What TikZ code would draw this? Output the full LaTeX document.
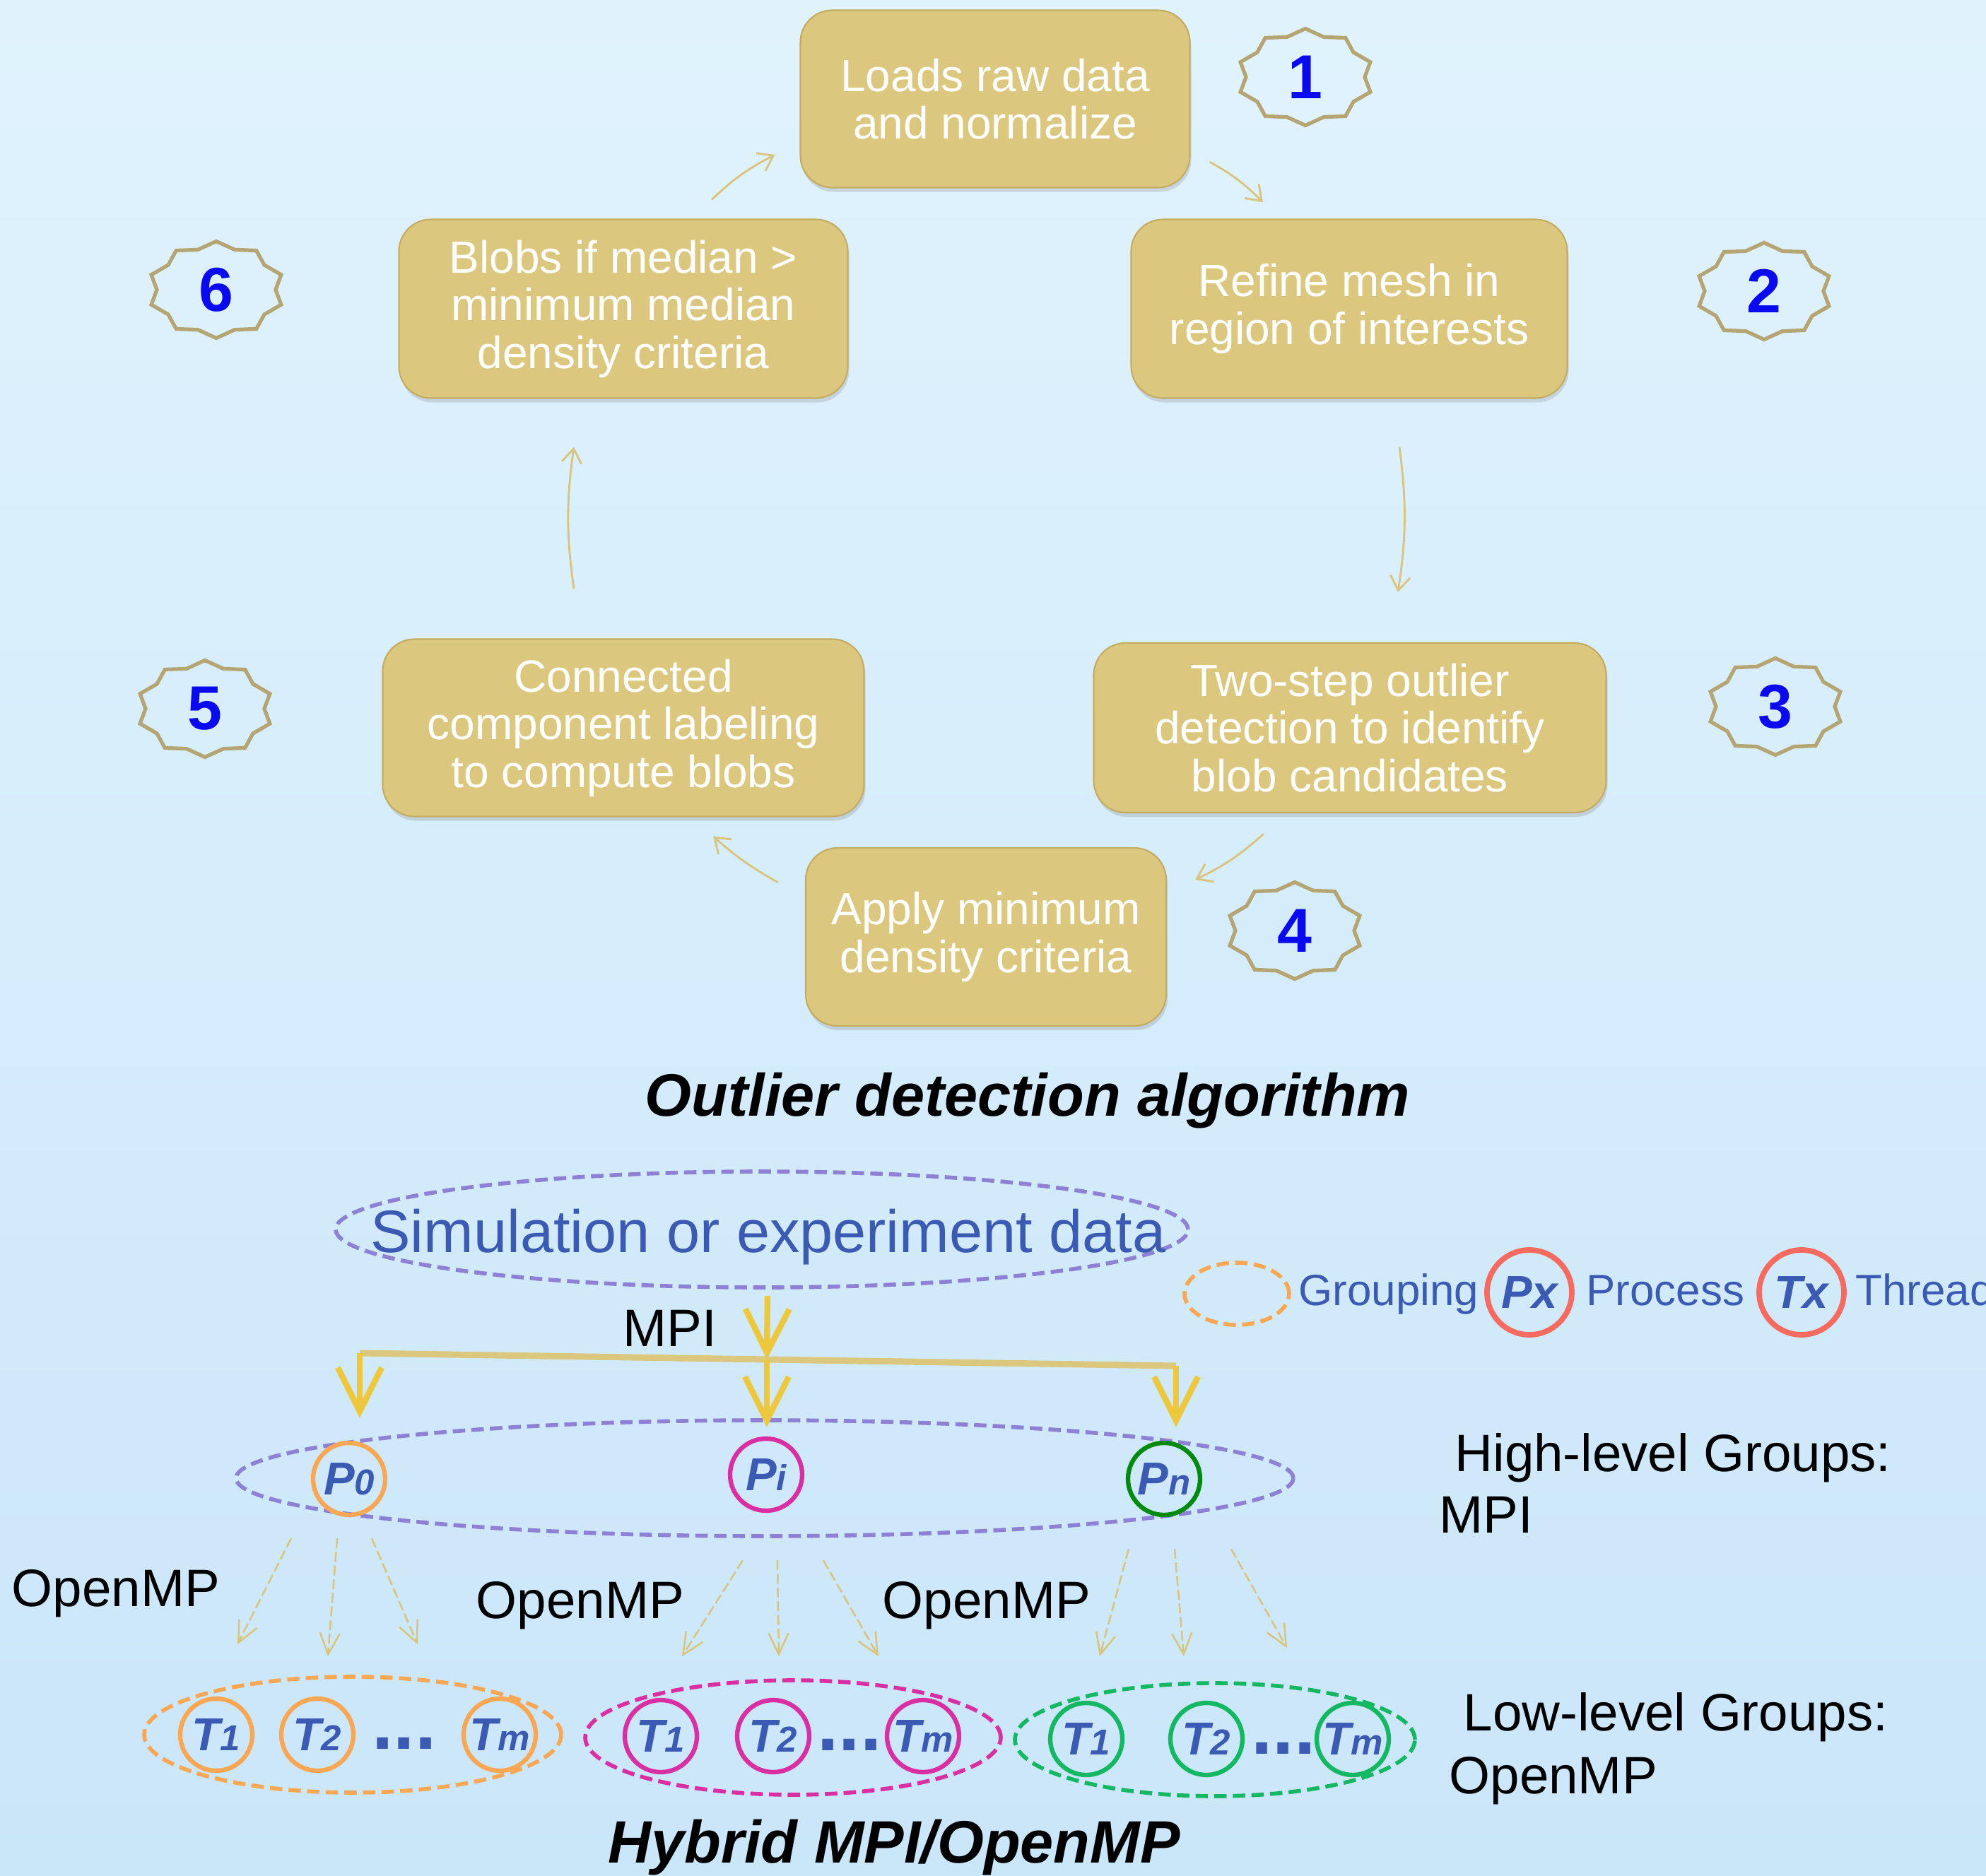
\documentclass[tikz,border=0pt]{standalone}
\usepackage{fontspec}
\setmainfont{Liberation Sans}
\usetikzlibrary{shapes.geometric,shadows,arrows.meta}
\definecolor{bgLight}{HTML}{E0F3FD}
\definecolor{bgDeep}{HTML}{CAE6F9}
\definecolor{boxTan}{HTML}{DBC87E}
\definecolor{boxEdge}{HTML}{C4AC62}
\definecolor{flowTan}{HTML}{D8C47A}
\definecolor{sealEdge}{HTML}{B5A572}
\definecolor{numBlue}{HTML}{0A0AF0}
\definecolor{textBlue}{HTML}{3A5AB4}
\definecolor{groupPurple}{HTML}{8E80D4}
\definecolor{procOrange}{HTML}{F9A752}
\definecolor{procMagenta}{HTML}{D92FA3}
\definecolor{procGreen}{HTML}{008A0E}
\definecolor{threadGreen}{HTML}{14B862}
\definecolor{legendRed}{HTML}{F76A60}
\definecolor{mpiYellow}{HTML}{EEC83C}
\newcommand{\plabelfont}{\fontsize{18.6}{19}\selectfont\bfseries\itshape}
\newcommand{\smallidx}[1]{{\fontsize{14.5}{14}\selectfont #1}}

\begin{document}
\begin{tikzpicture}[x=1cm,y=1cm,
    stepbox/.style={rounded corners=0.45cm, fill=boxTan, draw=boxEdge, line width=0.6pt,
      text=white, align=center, font=\fontsize{18.2}{19.2}\selectfont,
      drop shadow={shadow xshift=0.02cm, shadow yshift=-0.06cm, opacity=0.25}},
    seal/.style={star, star points=10, star point ratio=1.15, draw=sealEdge, line width=1.5pt,
      minimum size=1.37cm, inner sep=0pt, xscale=1.41},
    badgenum/.style={text=numBlue, font=\fontsize{25}{26}\selectfont\bfseries},
    flow/.style={draw=flowTan, line width=0.8pt, -{Straight Barb[length=0.2cm,width=0.28cm]}},
    group/.style={ellipse, draw=#1, line width=1.6pt, dash pattern=on 5pt off 2.5pt, inner sep=0pt},
    proc/.style={circle, draw=#1, line width=1.8pt, minimum size=1.02cm, inner sep=-2pt,
      text=textBlue, font=\plabelfont},
    legendring/.style={circle, draw=legendRed, line width=2.2pt, minimum size=1.2cm, inner sep=-2pt,
      text=textBlue, font=\plabelfont},
    dots/.style={text=textBlue, font=\fontsize{31}{31}\selectfont\bfseries},
    mpiflow/.style={draw=mpiYellow, line width=2.4pt, -{Straight Barb[length=0.62cm,width=0.62cm]}},
    ompflow/.style={draw=flowTan, line width=0.7pt, dash pattern=on 4pt off 1.5pt,
      -{Straight Barb[length=0.3cm,width=0.28cm]}},
    titletext/.style={font=\fontsize{24.1}{26}\selectfont\bfseries\itshape},
    blacktext/.style={inner sep=0pt, font=\fontsize{21.2}{22}\selectfont},
    legendtext/.style={inner sep=0pt, text=textBlue, font=\fontsize{17.6}{19}\selectfont}]

  \useasboundingbox (0,0) rectangle (28.10,-26.55);
  \clip (0,0) rectangle (28.10,-26.55);
  \shade[top color=bgLight, bottom color=bgDeep] (0,0) rectangle (28.10,-26.55);

  % algorithm steps
  \node[stepbox, minimum width=5.51cm, minimum height=2.51cm] (load) at (14.08,-1.40) {Loads raw data\\and normalize};
  \node[stepbox, minimum width=6.17cm, minimum height=2.53cm] (refine) at (19.09,-4.37) {Refine mesh in\\region of interests};
  \node[stepbox, minimum width=7.25cm, minimum height=2.40cm] (twostep) at (19.10,-10.30) {Two-step outlier\\detection to identify\\blob candidates};
  \node[stepbox, minimum width=5.10cm, minimum height=2.52cm] (density) at (13.95,-13.26) {Apply minimum\\density criteria};
  \node[stepbox, minimum width=6.81cm, minimum height=2.51cm] (ccl) at (8.82,-10.30) {Connected\\component labeling\\to compute blobs};
  \node[stepbox, minimum width=6.35cm, minimum height=2.53cm] (median) at (8.82,-4.37) {Blobs if median >\\minimum median\\density criteria};

  \node[seal] (s1) at (18.47,-1.09) {};
  \node[seal] (s2) at (24.96,-4.12) {};
  \node[seal] (s3) at (25.12,-10.00) {};
  \node[seal] (s4) at (18.32,-13.17) {};
  \node[seal] (s5) at (2.90,-10.03) {};
  \node[seal] (s6) at (3.06,-4.10) {};
  \node[badgenum] (n1) at (s1) {1};
  \node[badgenum] (n2) at (s2) {2};
  \node[badgenum] (n3) at (s3) {3};
  \node[badgenum] (n4) at (s4) {4};
  \node[badgenum] (n5) at (s5) {5};
  \node[badgenum] (n6) at (s6) {6};

  \draw[flow] ([shift={(0.27,-0.89)}]load.east) to[bend left=8] ([shift={(-1.22,0.23)}]refine.north);
  \draw[flow] ([shift={(0.71,-0.68)}]refine.south) to[bend left=8] ([shift={(0.68,0.71)}]twostep.north);
  \draw[flow] ([shift={(-1.22,-0.29)}]twostep.south) to[bend left=8] ([shift={(0.40,0.81)}]density.east);
  \draw[flow] ([shift={(-0.38,0.77)}]density.west) to[bend left=6] ([shift={(1.27,-0.27)}]ccl.south);
  \draw[flow] ([shift={(-0.70,0.70)}]ccl.north) to[bend left=8] ([shift={(-0.70,-0.68)}]median.south);
  \draw[flow] ([shift={(1.25,0.27)}]median.north) to[bend left=8] ([shift={(-0.35,-0.79)}]load.west);

  \node[titletext, anchor=base] (algtitle) at (14.54,-15.79) {Outlier detection algorithm};

  % hybrid MPI/OpenMP
  \node[group=groupPurple, minimum width=12.06cm, minimum height=1.64cm] (data) at (10.78,-17.40) {};
  \node[text=textBlue, font=\fontsize{24.1}{26}\selectfont, anchor=base] (datalabel) at (10.87,-17.72) {Simulation or experiment data};

  \node[group=procOrange, minimum width=1.48cm, minimum height=0.88cm] (leggroup) at (17.50,-18.31) {};
  \node[legendtext, anchor=base west] (leggrouptext) at (18.37,-18.47) {Grouping};
  \node[legendring] (legproc) at (21.64,-18.29) {Px};
  \node[legendtext, anchor=base west] (legproctext) at (22.44,-18.47) {Process};
  \node[legendring] (legthread) at (25.49,-18.29) {Tx};
  \node[legendtext, anchor=base west] (legthreadtext) at (26.25,-18.47) {Threads};

  \node[blacktext, anchor=base] (mpilabel) at (9.48,-19.05) {MPI};

  \node[group=groupPurple, minimum width=14.96cm, minimum height=1.64cm] (procgroup) at (10.82,-20.92) {};
  \node[proc=procOrange] (p0) at (4.94,-20.93) {P\smallidx{0}};
  \node[proc=procMagenta] (pmid) at (10.84,-20.87) {P\smallidx{i}};
  \node[proc=procGreen] (pn) at (16.47,-20.93) {P\smallidx{n}};

  \coordinate (split-l) at (5.09,-19.15);
  \coordinate (split-m) at (10.85,-19.24);
  \coordinate (split-r) at (16.64,-19.33);
  \draw[boxTan, line width=0.09cm] (split-l) -- (split-r);
  \draw[mpiflow] ([xshift=0.08cm,yshift=-0.09cm]data.south) -- (split-m);
  \draw[mpiflow, shorten >=0.32cm] (split-l) -- (split-l |- p0.north);
  \draw[mpiflow, shorten >=0.13cm] (split-m) -- (split-m |- pmid.north);
  \draw[mpiflow, shorten >=0.19cm] (split-r) -- (split-r |- pn.north);

  \node[blacktext, anchor=base west] (hltext) at (20.58,-20.82) {High-level Groups:};
  \node[blacktext, anchor=base west] (hlmpi) at (20.36,-21.69) {MPI};

  \node[group=procOrange, minimum width=5.90cm, minimum height=1.64cm] (g0) at (4.99,-24.55) {};
  \node[group=procMagenta, minimum width=5.88cm, minimum height=1.62cm] (g1) at (11.22,-24.59) {};
  \node[group=threadGreen, minimum width=5.66cm, minimum height=1.60cm] (g2) at (17.19,-24.62) {};

  \node[proc=procOrange] (t01) at (3.06,-24.55) {T\smallidx{1}};
  \node[proc=procOrange] (t02) at (4.49,-24.55) {T\smallidx{2}};
  \node[proc=procOrange] (t0m) at (7.07,-24.55) {T\smallidx{m}};
  \node[dots, anchor=base] (d0) at (5.72,-24.75) {...};
  \node[proc=procMagenta] (t11) at (9.35,-24.57) {T\smallidx{1}};
  \node[proc=procMagenta] (t12) at (10.94,-24.57) {T\smallidx{2}};
  \node[proc=procMagenta] (t1m) at (13.06,-24.57) {T\smallidx{m}};
  \node[dots, anchor=base] (d1) at (12.02,-24.77) {...};
  \node[proc=threadGreen] (t21) at (15.37,-24.61) {T\smallidx{1}};
  \node[proc=threadGreen] (t22) at (17.07,-24.61) {T\smallidx{2}};
  \node[proc=threadGreen] (t2m) at (19.14,-24.61) {T\smallidx{m}};
  \node[dots, anchor=base] (d2) at (18.16,-24.82) {...};

  \draw[ompflow] ([shift={(-0.82,-0.30)}]p0.south) -- ([shift={(-1.63,0.43)}]g0.north);
  \draw[ompflow] ([shift={(-0.17,-0.30)}]p0.south) -- ([shift={(-0.35,0.26)}]g0.north);
  \draw[ompflow] ([shift={(0.32,-0.30)}]p0.south) -- ([shift={(0.92,0.43)}]g0.north);
  \draw[ompflow] ([shift={(-0.33,-0.67)}]pmid.south) -- ([shift={(-1.57,0.31)}]g1.north);
  \draw[ompflow] ([shift={(0.16,-0.67)}]pmid.south) -- ([shift={(-0.20,0.31)}]g1.north);
  \draw[ompflow] ([shift={(0.81,-0.67)}]pmid.south) -- ([shift={(1.21,0.31)}]g1.north);
  \draw[ompflow] ([shift={(-0.50,-0.45)}]pn.south) -- ([shift={(-1.63,0.35)}]g2.north);
  \draw[ompflow] ([shift={(0.15,-0.45)}]pn.south) -- ([shift={(-0.44,0.35)}]g2.north);
  \draw[ompflow] ([shift={(0.95,-0.45)}]pn.south) -- ([shift={(1.02,0.47)}]g2.north);

  \node[blacktext, anchor=base] (omp0) at (1.64,-22.73) {OpenMP};
  \node[blacktext, anchor=base] (omp1) at (8.21,-22.90) {OpenMP};
  \node[blacktext, anchor=base] (omp2) at (13.96,-22.90) {OpenMP};

  \node[blacktext, anchor=base west] (lltext) at (20.70,-24.49) {Low-level Groups:};
  \node[blacktext, anchor=base west] (llomp) at (20.50,-25.38) {OpenMP};

  \node[titletext, anchor=base] (hybtitle) at (12.65,-26.36) {Hybrid MPI/OpenMP};
\end{tikzpicture}
\end{document}
